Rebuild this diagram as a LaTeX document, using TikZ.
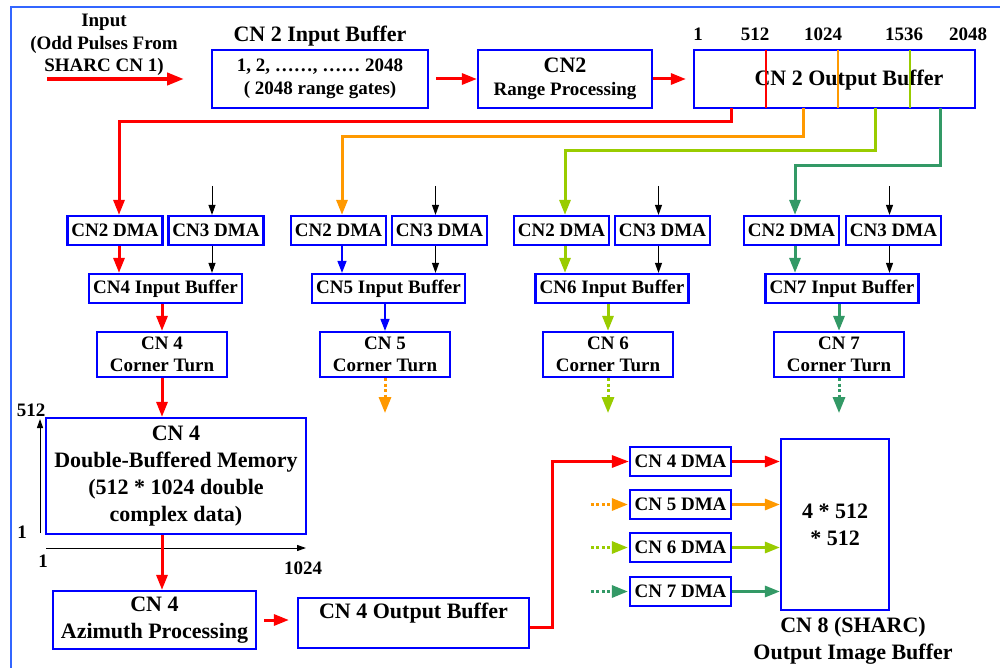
\documentclass[tikz,border=0pt]{standalone}
\usepackage{fontspec}
\setmainfont{Liberation Serif}
\usetikzlibrary{arrows.meta,calc}
\definecolor{fr}{HTML}{3366FF}
\definecolor{bx}{HTML}{0000FF}
\definecolor{cr}{HTML}{FF0000}
\definecolor{co}{HTML}{FF9900}
\definecolor{cy}{HTML}{99CC00}
\definecolor{cg}{HTML}{339966}
\newcommand\smf{\fontsize{19}{22.5}\selectfont\bfseries}
\newcommand\lgf{\fontsize{22}{27}\selectfont\bfseries}
\tikzset{
  box/.style={draw=bx, line width=2.2pt, fill=white, inner sep=0pt, align=center, font=\smf},
  boxL/.style={box, font=\lgf},
  txtS/.style={inner sep=0pt, align=center, font=\smf},
  txtL/.style={inner sep=0pt, align=center, font=\lgf},
  thk/.style={line width=3pt, -{Triangle[length=15pt,width=11pt]}},
  thn/.style={line width=1pt, -{Triangle[length=10pt,width=7pt]}},
  bln/.style={bx, line width=1.5pt, -{Triangle[length=12pt,width=9pt]}},
  dsh/.style={line width=3pt, dash pattern=on 3pt off 2.5pt, -{Triangle[length=16pt,width=12pt]}},
  route/.style={line width=3pt},
  axis/.style={line width=1pt, -{Triangle[length=9pt,width=6pt]}}
}
\begin{document}
\begin{tikzpicture}[x=1pt,y=-1pt]
\useasboundingbox (0,0) rectangle (1000,668);
% frame
\draw[fr, line width=2pt] (11,668) -- (11,7) -- (1000,7);

% top row
\node[txtS] (inp) at (104,45) {Input\\(Odd Pulses From\\SHARC CN 1)};
\coordinate (inA) at (47,79);
\coordinate (inB) at (184,79);
\draw[cr, line width=4pt, -{Triangle[length=17pt,width=12pt]}] (inA) -- (inB);

\node[txtL] (inbuftitle) at (320,36) {CN 2 Input Buffer};
\node[box, minimum width=216, minimum height=58] (inbuf) at (320,79) {1, 2, ……, …… 2048\\( 2048 range gates)};
\node[box, minimum width=174, minimum height=58] (rangep) at (565,79) {\lgf CN2\\\smf Range Processing};
\node[box, minimum width=281, minimum height=58] (outbuf) at (834.5,79) {};
\node[txtL] (outbuftxt) at (849,80) {CN 2 Output Buffer};
\draw[cr, line width=2.5pt] (766,50) -- (766,108);
\draw[co, line width=2.5pt] (838,50) -- (838,108);
\draw[cy, line width=2.5pt] (910,50) -- (910,108);
\node[txtS] (l1) at (698,34) {1};
\node[txtS] (l512) at (755,34) {512};
\node[txtS] (l1024) at (823,34) {1024};
\node[txtS] (l1536) at (904,34) {1536};
\node[txtS] (l2048) at (968,34) {2048};

\draw[cr, thk] ([xshift=7]inbuf.east) -- (rangep.west);
\draw[cr, thk] (rangep.east) -- ([xshift=-7]outbuf.west);

% DMA row
\foreach \n/\x in {c1a/115,c1b/216,c2a/338.5,c2b/439.5,c3a/561.5,c3b/662.5,c4a/791.5,c4b/893.5}
  {\node[box, minimum width=95, minimum height=29] (\n) at (\x,230.5) {};}
\node[txtS] at (c1a) {CN2 DMA}; \node[txtS] at (c1b) {CN3 DMA};
\node[txtS] at (c2a) {CN2 DMA}; \node[txtS] at (c2b) {CN3 DMA};
\node[txtS] at (c3a) {CN2 DMA}; \node[txtS] at (c3b) {CN3 DMA};
\node[txtS] at (c4a) {CN2 DMA}; \node[txtS] at (c4b) {CN3 DMA};

% routes from output buffer
\coordinate (t1) at (731,108);
\coordinate (t2) at (803,108);
\coordinate (t3) at (875,108);
\coordinate (t4) at (940,108);
\draw[cr, thk] (t1) -- (731,122) -| ([xshift=4]c1a.north);
\draw[co, thk] (t2) -- (803,136.5) -| ([xshift=3.5]c2a.north);
\draw[cy, thk] (t3) -- (875,151) -| ([xshift=3.5]c3a.north);
\draw[cg, thk] (t4) -- (940,165.5) -| ([xshift=3.5]c4a.north);

% black arrows into CN3 DMA
\foreach \n in {c1b,c2b,c3b,c4b}
  {\draw[thn] ([xshift=-4,yshift=29]\n.north) -- ([xshift=-4]\n.north);}

% input buffers
\node[box, minimum width=153, minimum height=29] (ib4) at (165.5,288.5) {CN4 Input Buffer};
\node[box, minimum width=153, minimum height=29] (ib5) at (388.5,288.5) {CN5 Input Buffer};
\node[box, minimum width=153, minimum height=29] (ib6) at (612,288.5) {CN6 Input Buffer};
\node[box, minimum width=153, minimum height=29] (ib7) at (842,288.5) {CN7 Input Buffer};

\draw[cr, thk] ([xshift=4]c1a.south) -- ([xshift=4]c1a.south |- ib4.north);
\draw[bln] ([xshift=3.5]c2a.south) -- ([xshift=3.5]c2a.south |- ib5.north);
\draw[cy, thk] ([xshift=3.5]c3a.south) -- ([xshift=3.5]c3a.south |- ib6.north);
\draw[cg, thk] ([xshift=3.5]c4a.south) -- ([xshift=3.5]c4a.south |- ib7.north);
\draw[thn] ([xshift=-4]c1b.south) -- ([xshift=-4]c1b.south |- ib4.north);
\draw[thn] ([xshift=-4]c2b.south) -- ([xshift=-4]c2b.south |- ib5.north);
\draw[thn] ([xshift=-4]c3b.south) -- ([xshift=-4]c3b.south |- ib6.north);
\draw[thn] ([xshift=-4]c4b.south) -- ([xshift=-4]c4b.south |- ib7.north);

% corner turns
\node[box, minimum width=130, minimum height=45] (ct4) at (162,354.5) {CN 4\\Corner Turn};
\node[box, minimum width=130, minimum height=45] (ct5) at (385,354.5) {CN 5\\Corner Turn};
\node[box, minimum width=130, minimum height=45] (ct6) at (608,354.5) {CN 6\\Corner Turn};
\node[box, minimum width=130, minimum height=45] (ct7) at (839,354.5) {CN 7\\Corner Turn};

\draw[cr, thk] (ct4.north |- ib4.south) -- (ct4.north);
\draw[bln] (ct5.north |- ib5.south) -- (ct5.north);
\draw[cy, thk] (ct6.north |- ib6.south) -- (ct6.north);
\draw[cg, thk] (ct7.north |- ib7.south) -- (ct7.north);

\draw[co, dsh] (ct5.south) -- ([yshift=-35]ct5.south);
\draw[cy, dsh] (ct6.south) -- ([yshift=-35]ct6.south);
\draw[cg, dsh] (ct7.south) -- ([yshift=-35]ct7.south);

% memory
\node[boxL, minimum width=260, minimum height=116] (mem) at (176,476) {CN 4\\Double-Buffered Memory\\(512 * 1024 double\\complex data)};
\draw[cr, thk] (ct4.south) -- (ct4.south |- mem.north);

\coordinate (ay0) at (40,533);
\coordinate (ay1) at (40,419);
\coordinate (ax0) at (46,548);
\coordinate (ax1) at (306,548);
\draw[axis] (ay0) -- (ay1);
\draw[axis] (ax0) -- (ax1);
\node[txtS] (a512) at (31,410) {512};
\node[txtS] (ay1lab) at (22,532) {1};
\node[txtS] (ax1lab) at (43,561) {1};
\node[txtS] (a1024) at (303,568) {1024};

% azimuth
\node[boxL, minimum width=203, minimum height=58] (az) at (154.5,620) {CN 4\\Azimuth Processing};
\draw[cr, thk] ([xshift=-14]mem.south) -- ([xshift=-14]mem.south |- az.north);

\node[boxL, minimum width=231, minimum height=50] (ob4) at (413.5,623) {};
\node[txtL] (ob4txt) at (413.5,613) {CN 4 Output Buffer};
\draw[cr, thk] ([xshift=7]az.east) -- ([xshift=-8]az.east -| ob4.west);

% right DMAs
\node[box, minimum width=101, minimum height=29] (d4) at (680.5,461.5) {CN 4 DMA};
\node[box, minimum width=101, minimum height=29] (d5) at (680.5,504.5) {CN 5 DMA};
\node[box, minimum width=101, minimum height=29] (d6) at (680.5,547.5) {CN 6 DMA};
\node[box, minimum width=101, minimum height=29] (d7) at (680.5,591.5) {CN 7 DMA};

\node[boxL, minimum width=108, minimum height=171] (img) at (835,524.5) {4 * 512\\* 512};
\node[txtL] (imglab) at (853,641) {CN 8 (SHARC)\\Output Image Buffer};

\draw[cr, route, -{Triangle[length=17pt,width=12pt]}] ([yshift=-4]ob4.east) -- ++(22,0) |- (d4.west);
\draw[co, dsh] ([xshift=-38]d5.west) -- ([xshift=-1]d5.west);
\draw[cy, dsh] ([xshift=-38]d6.west) -- ([xshift=-1]d6.west);
\draw[cg, dsh] ([xshift=-38]d7.west) -- ([xshift=-1]d7.west);

\draw[cr, thk] (d4.east) -- (d4.east -| img.west);
\draw[co, thk] (d5.east) -- (d5.east -| img.west);
\draw[cy, thk] (d6.east) -- (d6.east -| img.west);
\draw[cg, thk] (d7.east) -- (d7.east -| img.west);
\end{tikzpicture}
\end{document}
